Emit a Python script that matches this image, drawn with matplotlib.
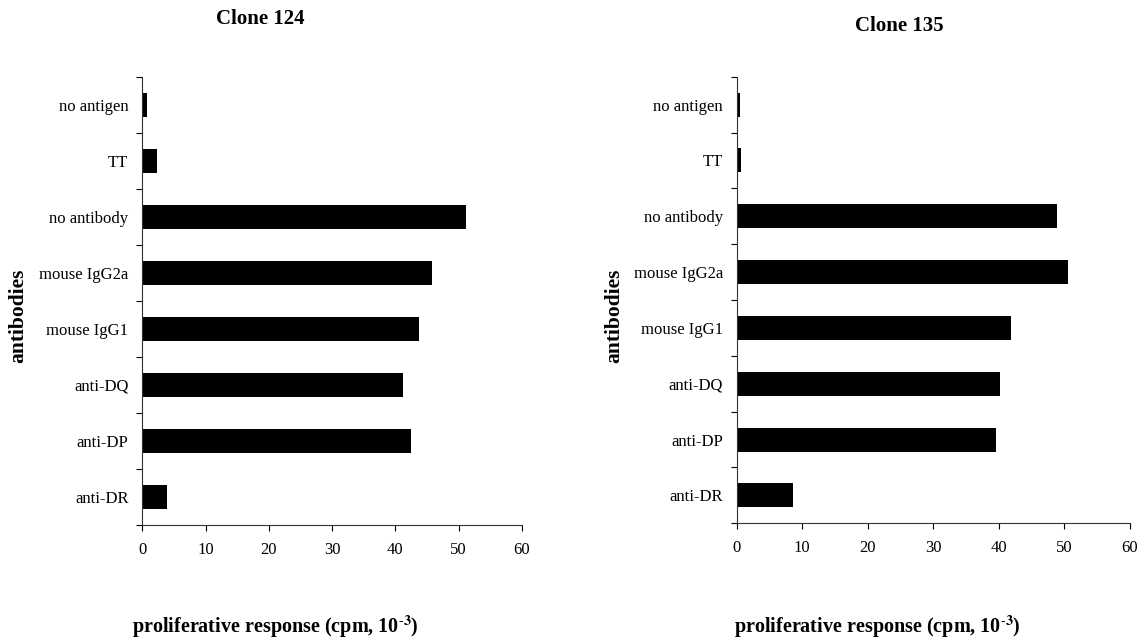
import numpy as np
import matplotlib
matplotlib.use('Agg')
import matplotlib.pyplot as plt

plt.rcParams['font.family'] = 'Liberation Serif'
plt.rcParams['mathtext.fontset'] = 'stix'

categories = ['no antigen', 'TT', 'no antibody', 'mouse IgG2a', 'mouse IgG1', 'anti-DQ', 'anti-DP', 'anti-DR']
clone124 = [0.7, 2.4, 51.2, 45.7, 43.8, 41.2, 42.5, 3.9]
clone135 = [0.5, 0.6, 48.8, 50.6, 41.8, 40.1, 39.6, 8.6]
xticks = [0, 10, 20, 30, 40, 50, 60]

fig = plt.figure(figsize=(11.4, 6.4), dpi=100)

def panel(rect, values):
    ax = fig.add_axes(rect)
    y = np.arange(len(categories))
    ax.barh(y, values, height=0.43, color='black')
    ax.set_ylim(len(categories) - 0.5, -0.5)
    ax.set_xlim(0, 60)
    ax.set_xticks(xticks)
    ax.set_yticks(y)
    ax.set_yticklabels(categories, fontsize=12)
    ax.set_yticks(np.arange(len(categories) + 1) - 0.5, minor=True)
    ax.tick_params(axis='y', which='major', length=0, pad=10)
    ax.tick_params(axis='y', which='minor', length=4, width=0.8, direction='out')
    ax.tick_params(axis='x', length=4, width=0.8, labelsize=12, pad=8)
    ax.spines['top'].set_visible(False)
    ax.spines['right'].set_visible(False)
    for s in ['left', 'bottom']:
        ax.spines[s].set_linewidth(0.8)
        ax.spines[s].set_color('#333333')
    return ax

ax1 = panel([0.1248, 0.1797, 0.3331, 0.7003], clone124)
ax2 = panel([0.6462, 0.1823, 0.3450, 0.6979], clone135)

xlab = r'proliferative response (cpm, 10$^{\text{-}\mathbf{3}}$)'
fig.text(0.228, 0.970, 'Clone 124', fontsize=15, fontweight='bold', ha='center', va='center')
fig.text(0.789, 0.959, 'Clone 135', fontsize=15, fontweight='bold', ha='center', va='center')
fig.text(0.2415, 0.020, xlab, fontsize=14.5, fontweight='bold', ha='center', va='center')
fig.text(0.770, 0.020, xlab, fontsize=14.5, fontweight='bold', ha='center', va='center')
fig.text(0.016, 0.506, 'antibodies', fontsize=15.5, fontweight='bold', rotation=90, ha='center', va='center')
fig.text(0.539, 0.506, 'antibodies', fontsize=15.5, fontweight='bold', rotation=90, ha='center', va='center')

fig.savefig('out.png', dpi=100)
